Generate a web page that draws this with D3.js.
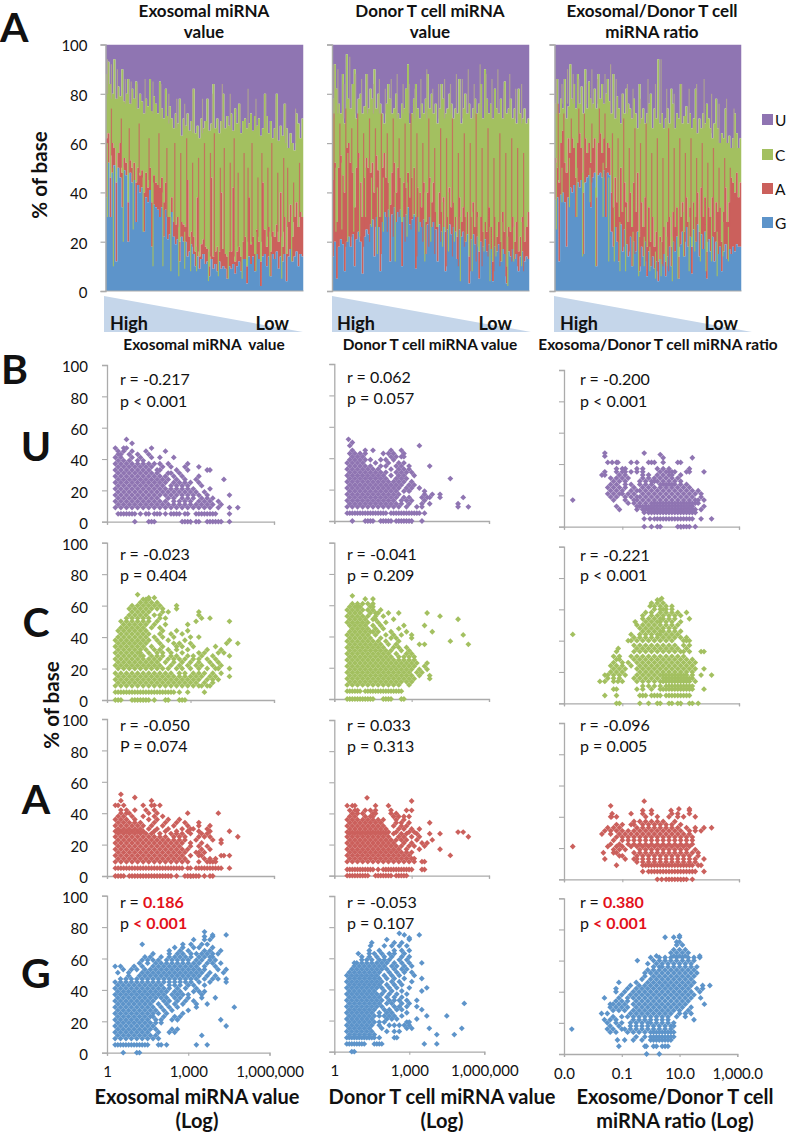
<!DOCTYPE html>
<html><head><meta charset="utf-8">
<script src="https://cdn.jsdelivr.net/npm/d3@7"></script>
<style>
html,body{margin:0;padding:0;background:#fff}
svg{display:block}
text{font-family:Lato,"Open Sans",sans-serif;fill:#111}
</style></head><body><div id="chart"></div>
<script>
// ---------- Panel A: stacked base composition, boundary of each layer (% of base) ----------
const gTopExo=[38,52,30,48,51,12,50,46,34,49,47,20,48,44,45,28,43,40,42,24,38,36,41,18,35,34,33,30,34,22,33,21,23,32,22,19,21,12,22,20,20,14,16,19,15,10,14,9,13,15,11,12,6,13,9,11,8,12,9,10,9,5,10,9,11,7,10,12,8,13,13,3,14,11,14,8,15,13,2,14,15,10,14,6,15,13,16,9,14,12,15,4,14,17,12,14,16,10,15,14];
const aTopExo=[62,64,46,60,58,44,56,60,48,54,52,36,53,50,52,44,50,47,49,40,48,42,50,36,47,44,43,42,46,36,44,30,30,38,28,27,30,20,28,27,26,45,22,24,22,16,38,14,19,21,18,17,10,46,14,16,18,16,40,17,15,14,16,16,42,12,16,18,14,20,22,10,38,19,22,15,25,20,12,44,25,18,26,16,24,22,27,20,40,18,30,15,28,35,22,30,36,26,32,30];
const cTopExo=[88,93,84,80,94,78,83,79,90,77,80,86,76,82,78,85,74,80,77,72,78,75,86,73,79,76,72,85,74,70,82,71,75,70,66,72,68,78,63,70,67,72,65,69,82,64,67,62,70,66,69,78,65,68,84,66,70,64,69,80,66,71,67,72,65,74,68,76,64,69,70,66,68,72,65,71,67,70,63,66,80,71,64,69,62,66,80,61,67,63,76,66,58,64,60,57,72,68,62,70];
const gTopDon=[14,20,5,18,21,19,8,20,22,18,23,10,21,24,20,7,22,25,23,27,29,14,30,26,8,28,32,30,33,12,31,34,28,32,33,10,30,31,34,27,29,31,9,30,28,26,29,15,27,30,26,28,25,12,27,24,26,8,25,27,23,26,24,13,25,22,24,20,23,3,21,23,19,22,5,20,18,21,16,19,17,4,18,16,19,12,17,15,3,16,14,17,13,15,8,14,16,12,14,13];
const aTopDon=[45,52,28,50,55,47,40,58,60,52,48,34,50,56,44,30,46,54,50,48,52,40,55,49,30,50,56,46,44,35,48,52,40,50,46,28,44,42,48,38,46,50,30,42,40,34,44,28,40,46,36,44,32,26,40,32,38,24,30,42,34,36,30,22,38,28,34,30,32,14,30,36,26,32,16,30,24,28,24,34,26,12,30,22,28,20,32,24,10,26,24,30,20,28,16,22,30,20,26,32];
const cTopDon=[78,92,82,76,72,88,68,96,78,74,84,90,70,78,80,72,75,88,74,82,78,90,74,80,76,72,68,76,84,78,72,74,80,72,70,76,74,82,92,68,72,78,84,74,70,76,72,78,88,74,80,72,76,68,74,84,78,72,74,80,76,70,74,72,86,68,74,80,72,76,70,74,78,72,76,84,70,90,78,72,76,70,82,74,72,78,70,85,72,74,78,70,74,68,82,72,70,74,68,70];
const gTopRat=[37,38,12,39,40,36,18,38,42,40,43,30,44,42,45,15,44,46,47,34,46,48,10,47,48,46,49,30,48,47,24,18,26,20,12,27,16,25,19,14,22,10,20,16,24,8,18,14,20,6,16,10,14,9,12,4,13,11,15,6,14,18,10,20,16,22,5,19,24,14,26,18,22,7,25,20,27,14,23,17,24,5,21,16,22,12,20,15,18,8,16,19,13,17,15,18,16,19,18,18];
const aTopRat=[54,50,44,60,65,52,48,62,56,62,58,46,60,64,58,40,62,56,60,52,58,62,38,60,64,56,62,50,60,58,40,34,46,36,30,50,32,44,36,28,40,26,44,32,48,22,36,26,38,18,34,20,30,18,24,12,22,20,26,12,28,30,18,32,26,34,14,30,36,24,38,28,34,18,36,30,40,24,42,30,38,16,34,30,38,24,36,32,34,20,32,42,28,36,46,44,40,48,38,44];
const cTopRat=[76,86,72,78,74,86,70,75,92,78,84,74,88,76,83,72,90,74,85,78,76,82,74,88,78,84,76,80,86,77,72,88,70,79,74,68,80,72,82,76,74,70,78,72,66,84,70,74,68,72,76,80,66,74,70,94,68,72,66,70,74,68,82,76,66,72,70,84,68,71,75,68,72,66,70,82,64,70,66,72,68,76,70,66,62,68,78,66,60,64,62,74,60,63,58,62,72,64,58,62];
// thin single-miRNA streaks seen inside the layers: [position along the ranking (%), low %, high %]
const redExo=[[3,55,74],[8,50,70],[12,48,66],[17,48,68],[22,45,62],[27,40,64],[31,30,58],[35,25,60],[38,22,56],[41,20,62],[44,18,52],[47,16,54],[50,15,60],[53,14,56],[55,14,64],[58,16,50],[60,15,58],[63,15,52],[65,14,62],[67,18,48],[70,18,56],[72,20,50],[74,20,60],[77,22,46],[79,20,56],[82,22,50],[84,22,60],[87,24,48],[90,24,54],[92,26,50],[95,28,44],[98,30,52]];
const greenExo=[[1,30,60],[4,10,50],[9,20,50],[14,25,50],[19,24,46],[24,10,44],[29,10,40],[33,8,30],[37,6,26],[40,9,24],[43,8,22],[46,8,18],[52,4,16],[57,6,18],[62,5,18],[69,5,20],[76,8,24],[83,6,24],[89,5,22],[94,12,30]];
const greyExo=[[1,80,94],[3,78,92],[6,78,90],[10,76,86],[13,76,85],[16,74,84],[20,72,86],[24,72,85],[28,70,84],[32,68,80],[36,66,78],[40,66,76],[44,64,82],[49,64,78],[54,66,80],[59,66,84],[63,66,80],[68,66,76],[72,66,82],[76,66,78],[81,66,80],[86,62,78],[91,60,76],[96,60,74]];
const redDon=[[1,30,72],[4,25,68],[7,18,74],[10,22,66],[13,30,72],[16,18,64],[19,20,70],[22,26,66],[25,15,72],[28,24,64],[31,22,70],[34,30,62],[37,20,68],[40,25,72],[43,14,64],[46,20,60],[49,18,70],[52,15,58],[55,20,66],[58,10,62],[61,14,70],[64,10,56],[67,18,64],[70,8,60],[73,12,72],[76,10,58],[79,14,66],[82,8,54],[85,10,64],[88,6,56],[91,12,62],[94,10,58],[97,8,56]];
const greenDon=[[2,24,50],[5,25,52],[8,20,56],[11,24,48],[14,22,54],[17,30,50],[20,26,46],[23,15,42],[26,24,46],[29,30,52],[32,12,40],[35,30,50],[38,22,44],[41,30,50],[44,24,42],[47,12,40],[50,20,44],[53,26,38],[56,18,36],[59,16,40],[62,20,38],[65,4,30],[68,20,34],[71,8,32],[74,18,30],[77,16,34],[80,4,26],[83,14,30],[86,12,28],[89,2,22],[92,12,26],[96,10,28]];
const greyDon=[[1,70,92],[3,72,90],[6,70,84],[9,74,95],[12,72,88],[15,72,86],[18,72,88],[21,72,84],[24,72,86],[27,72,82],[30,72,86],[33,70,88],[36,72,84],[39,72,84],[42,70,82],[45,72,86],[48,70,90],[51,72,82],[54,70,84],[57,70,86],[60,72,84],[63,72,88],[66,70,86],[69,72,90],[72,70,84],[75,72,92],[78,72,88],[81,70,86],[84,72,90],[87,70,82],[90,72,88],[93,70,82],[96,68,84]];
const redRat=[[2,45,76],[5,40,72],[9,42,70],[13,45,74],[16,44,72],[20,44,68],[24,48,74],[27,46,72],[31,25,64],[34,20,62],[37,18,70],[40,16,58],[43,15,66],[46,10,60],[49,12,68],[52,10,56],[55,8,62],[58,10,54],[61,8,66],[64,16,58],[67,18,62],[70,20,56],[73,22,62],[76,20,54],[79,24,60],[82,20,52],[85,22,58],[88,20,50],[91,24,54],[94,26,50]];
const greenRat=[[1,25,52],[4,36,50],[8,34,54],[12,30,50],[15,14,48],[19,36,50],[22,10,42],[26,30,52],[29,12,46],[32,12,34],[35,8,28],[38,8,34],[42,10,24],[45,6,24],[48,10,22],[51,8,18],[54,5,16],[57,6,20],[60,10,22],[63,4,22],[66,5,22],[69,14,32],[72,8,30],[75,16,36],[78,12,30],[81,8,24],[84,12,30],[87,6,24],[90,14,28],[93,12,26]];
const greyRat=[[1,72,86],[4,76,84],[7,76,90],[10,76,88],[13,76,86],[17,76,84],[20,74,90],[23,76,86],[27,76,88],[30,72,92],[33,70,86],[36,70,80],[39,72,84],[42,70,82],[46,68,78],[50,68,86],[54,70,84],[57,68,94],[60,66,82],[64,66,80],[68,68,84],[72,68,82],[76,64,84],[80,66,86],[84,64,80],[88,60,76],[92,60,78],[96,58,74]];

// ---------- Panel B: scatter rows, each row = [% of base, then log10(x)*10 for the points at that level] ----------
const uExo=[[0,10,15,16,17,27,28,29,30,32,33,36,37,38,39,40,41,44],[5,4,5,6,7,8,9,10,12,14,15,17,18,19,21,23,24,25,26,28,29,32,33,34,35,36,37,38,39,44],[9,3,5,7,9,11,13,15,17,19,21,23,25,27,29,31,33,35,37,40,44,47],[11,4,6,8,10,12,14,16,18,20,22,24,26,28,30,32,34,36,38,41],[13,3,5,7,9,11,13,15,17,19,21,24,26,28,30,33,35,37,40],[15,4,6,8,10,12,14,16,18,22,24,27,29,31,34,36,38],[17,3,5,7,9,11,13,15,17,19,21,23,25,27,29,31,33,36,44],[19,4,6,8,10,12,14,16,18,20,22,24,26,28,30,32,35],[21,3,5,7,9,11,13,15,17,19,21,23,25,27,29,31,37],[23,4,6,8,10,12,14,16,18,20,23,25,27,29,34],[25,3,5,7,9,11,13,15,17,19,21,24,26,28,30,33],[27,4,6,8,10,12,14,16,18,20,22,25,28,32,42],[29,3,5,7,9,11,13,15,17,19,21,24,27,33],[31,4,6,8,10,12,14,16,18,22,23,26],[33,3,5,7,9,11,13,15,18,19,25,29,36,37],[35,4,6,8,10,12,14,16,20,23,28,33],[37,3,5,7,9,11,13,15,17,19,22,29],[39,4,6,8,11,13],[41,3,5,9,12,16,19,24],[43,4,5,8,11,15],[45,4,6,9,14,21],[47,3,6,7,16],[50,9],[52.5,7]];
const cExo=[[0,3,4,5,9,10,11,12,13,14,15,17,21,22,26,27,28],[5,3,4,5,6,7,8,9,10,11,12,13,14,15,16,17,18,19,20,21,22,23,24,26,29,35],[9,3,5,7,9,11,13,15,17,19,21,23,25,27,29,31,33,34,36,37],[11,4,6,8,10,12,14,16,18,20,22,24,26,28,30,32,35,38],[13,3,5,7,9,11,13,15,17,19,21,23,25,27,29,31,33,36,38,40],[15,4,6,8,10,12,14,16,18,20,22,24,26,28,30,32,34,37,39,44],[17,3,5,7,9,11,13,15,17,19,21,23,26,28,31,33,35,38,41],[20,4,6,8,10,12,14,16,18,20,22,25,27,30,33,36,39,40,44],[22,3,5,7,9,11,13,15,17,19,23,26,29,32,34,38,41],[24,4,6,8,10,12,14,16,18,21,24,27,30,33,37,40],[26,3,5,7,9,11,13,15,17,19,22,24,26,28,31,33,36,39],[28,4,6,8,10,12,13,16,18,20,23,25,29,31,34,38,44],[30,3,5,7,9,11,12,15,18,20,23,27,33,35,40,42],[32,4,6,8,10,12,14,17,19,22,25,29,36,41],[34,3,5,7,9,11,13,16,20,25,27,31,39],[36,4,6,8,10,12,14,19,24,26,30,43,47],[38,3,5,7,9,11,13,15,18,22,28,44],[40,4,6,8,10,12,14,17,20,24,30,33],[42,5,7,9,11,13,15,19,23,27],[44,4,6,8,10,12,14,20,25,29],[46,5,7,9,11,13,16,19],[48,6,8,10,12,14,17,21,29],[50,5,7,9,11,13,15,18,32,44],[52,7,9,11,13,15,19,21,34,37],[54,8,10,12,14,17,19,33],[56,9,11,13,15,20,22,33],[58,8,10,12,14,16,18,20,25],[60,9,11,13,15,17,19,25],[62,12,14,16,18],[64,13,14,15],[65,15,17],[67,11]];
const aExo=[[0,3,4,5,6,8,9,10,11,12,13,14,15,16,17,18,19,20,21,22,23,25,28,29,30,31,32,33,35,37,38],[5,3,4,5,6,7,8,9,10,11,12,13,14,15,16,17,18,19,20,21,22,23,24,25,26,27,29,30,32,33,34,35,36,37,38,39,40,41,44],[9,3,5,7,9,11,13,15,17,19,21,23,25,27,29,33,36,37,38,39],[11,4,6,8,10,12,14,16,18,20,22,24,26,28,35,37,39],[13,3,5,7,9,11,13,15,17,19,21,23,25,27,30,33,34,41,42,44],[15,4,6,8,10,12,14,16,18,20,22,24,26,28,32,33,35],[17,3,5,7,9,11,13,15,17,19,21,23,25,27,29,34,37],[19,4,6,8,10,12,14,16,18,20,22,24,26,30,33,36],[21,3,5,7,9,11,13,15,17,19,21,23,25,27,30,34,41],[23,4,6,8,10,12,14,16,18,20,22,24,26,28,32,38,41],[25,3,5,7,9,11,13,15,17,19,21,24,26,28,33,35,37,47],[27,4,6,8,10,12,14,16,19,23,25,27,30,34,36],[28.5,3,5,7,9,11,13,17,21,25,29,33,37,44],[30,4,6,8,10,12,15,18,22,27,30,31,36],[32,3,5,7,9,11,13,16,20,24,29,33,37],[34,4,6,8,10,12,17,21,25,28,33],[36,3,5,7,10,15,18,22,26],[38,4,6,9,13,17,20],[40,5,7,8,15,18,29,40],[42,5,7,10,14,17],[45,3,4,6,13,16,17,19],[48,5,16],[50,10],[52,5]];
const gExo=[[0,6,11,12],[5,3,4,5,6,7,8,9,10,11,12,13,14,15,19,20,22,33,37],[9,3,5,7,9,11,13,15,17,19],[11,4,6,8,10,12,14,16,18,35],[13,3,5,7,9,11,13,15,19,23,25],[15,4,6,8,10,12,14,16,18,24,26],[17,3,5,7,9,11,13,15,17,44],[19,4,6,8,10,12,14,16,18,20],[21,3,5,7,9,11,13,15,18,20,24,26,42],[23,4,6,8,10,12,14,16,17,21,25,27],[25,3,5,7,9,11,13,15,17,19,22,28],[27,4,6,8,10,12,14,16,18,21,24,30],[29,3,5,7,9,11,13,15,17,20,23,26,47,33],[31,4,6,8,10,12,14,16,19,22,25,28,33,37],[33,3,5,7,9,11,13,15,17,21,23,26,29,32],[35,4,6,8,10,12,14,16,18,20,22,25,27,30,35,40],[37,3,5,7,9,11,13,15,17,19,21,24,26,28,30,35],[39,4,6,8,10,12,14,16,18,20,22,25,27,32,34,36],[41,3,5,7,9,11,13,15,17,19,21,23,26,29,33],[43,4,6,8,10,12,14,16,18,20,23,25,27,30,32,36],[45,3,5,7,9,11,13,15,17,19,21,23,25,27,29,31,34,38,44],[47,5,7,9,11,13,15,17,19,21,23,25,27,29,31,33,36,39,41,44],[49,8,12,14,16,18,20,22,24,26,28,30,32,34,37,40],[51,4,8,13,15,17,19,21,23,25,27,29,31,33,35,38,43],[53,6,9,11,14,16,18,20,22,24,26,28,30,32,34,36,41,44],[55,3,5,10,13,17,19,21,23,25,27,29,31,33,36,40],[57,12,15,18,20,22,24,26,28,30,32,34,37,39,42],[59,13,15,17,19,22,24,26,28,30,33,35,38,40],[61,14,16,20,23,25,27,29,31,34,36,38,39],[63,17,23,26,28,31,33,35,37,39,41],[65,23,27,30,36,38,42],[67,25,28,32,34,39],[69,13,28,31,35,37],[72,32,36,38],[74,39,36],[75,39,44],[77,36]];
const uDon=[[0,7,12,13,14,15,18,19,20,21,22,24,25,26,27,28,29,30,34],[5,5,6,7,8,9,10,11,12,13,14,15,16,17,18,19,20,22,23,24,25,26,27,28,29,30,31,32,33,35],[9,5,7,9,11,13,15,17,19,21,23,25,28,32,34,48,52],[11,6,8,10,12,14,16,18,20,22,24,26,29,34,37,48],[13,5,7,9,11,13,15,17,19,21,23,26,28,30,35],[15,6,8,10,12,14,16,18,20,22,24,27,29,34,36,37,41,50],[17,5,7,9,11,13,15,17,19,21,23,25,35,38,41],[19,6,8,10,12,14,16,18,20,22,24,27,29,35],[21,5,7,9,11,13,15,17,19,21,23,25,28,30,33],[23,6,8,10,12,14,16,18,20,22,24,26,29,31],[25,5,7,9,11,13,15,17,19,21,23,25,27,30],[27,6,8,10,12,14,16,18,20,24,26,28,45],[29,5,7,9,11,13,15,17,19,22,25,27,31],[31,6,8,10,12,14,16,18,20,24,26,28,30],[33,5,7,9,11,13,15,17,22,25,27,29],[35,6,8,10,12,14,18,20,24,26,29,37],[37,5,7,9,11,16,21,25,27],[39,6,8,10,12,14,18,20,23],[41,7,9,11,22,24,26,27],[43,6,8,10,12,19,21,23,27],[45,7,12,15,22,26],[48,6,33],[50,7],[52,5.5]];
const cDon=[[0,5,6,7,8,9,10,11,12,13,14,15,19,20,21,22,26,27],[5,5,6,7,8,9,10,12,13,14,15,16,17,18,19,20,21,22,23,24,25,26],[9,5,7,9,11,13,15,17,19,21,23,25,29],[11,6,8,10,12,14,16,18,20,22,24,26,28,30],[13,5,7,9,11,13,15,17,19,21,23,25,27,29,31,37],[15,6,8,10,12,14,16,18,20,22,24,26,28,30,33,37],[17,5,7,9,11,13,15,17,19,21,23,25,27,29,32,34],[19,6,8,10,12,14,16,18,20,22,24,26,28,30,33,36],[21,5,7,9,11,13,15,17,19,21,23,25,27,29,31,35],[23,6,8,10,12,14,16,18,20,22,24,26,28,30,32,36],[25,5,7,9,11,13,15,17,19,21,23,25,27,29,31],[27,6,8,10,12,14,16,18,20,22,25,27,29,31],[29,5,7,9,11,13,15,17,19,21,24,28,30],[31,6,8,10,12,14,16,18,20,22,26,29],[33,5,7,9,11,13,15,17,19,23,25,28],[35,6,8,10,12,14,16,18,21,24,33,35,52],[37,5,7,9,11,13,15,17,20,25,45],[39,6,8,10,12,14,18,22,24,30],[41,5,7,9,11,13,16,20,23,26,30,50],[43,6,8,10,12,14,15,17,22,28,38],[45,7,9,11,13,16,19,25],[47,6,8,10,12,15,18,27,35],[49,5,7,9,11,13,17,20],[51,6,8,10,12,15,16,23,48],[53,5,7,9,11,13,16,19,41],[55,6,8,10,14,16,17,21,25,36],[57,5,7,9,11,13,15,18],[59,6,8,9,10,14,15],[61,7,9,11,13,15],[64,12,15],[66,7]];
const aDon=[[0,5,6,7,8,9,10,11,12,13,16,17,18,19,20,21,22,24,25,26,27,28],[4,5,6,7,8,9,10,11,12,13,14,15,17,19,20,21,22,23,24,25,26,27,28,29,30,34,35],[9,5,7,9,11,13,15,17,19,21,23,25,27,29,31,34,35],[11,6,8,10,12,14,16,18,20,22,24,26,28,30,31],[13,5,7,9,11,13,15,17,19,21,23,25,27,29,45],[15,6,8,10,12,14,16,18,20,22,24,26,28,30],[17,5,7,9,11,13,15,17,19,21,23,25,28,33,41],[19,6,8,10,12,14,16,18,20,22,24,26,29,31,35],[21,5,7,9,11,13,15,17,19,21,23,27,30,34,36],[23,6,8,10,12,14,16,18,20,22,24,26,28,32,38],[25,5,7,9,11,13,15,17,19,21,25,27,30,33,52],[27,6,8,10,12,14,16,18,20,23,26,28,32,37,41],[28,5,7,9,11,13,15,17,19,21,24,29,31,48,50],[30,6,8,10,12,14,16,18,20,25,27,30,33],[32,5,7,9,11,13,15,17,19,23,26,28],[34,6,8,10,12,14,16,18,24,26,29,37],[36,5,7,9,11,13,15,17,19,24,27],[38,6,8,12,14,15,23,25,27,29],[40,7,9,11,15,16,22,24],[42,6,8,9,12,14,16,22,28,30],[45,5,7,8,16,21],[48,30],[50,12.7]];
const gDon=[[0,7,8],[5,5,6,7,8,9,10,11,12,16,17,18,19,36,41],[9,5,6,7,8,9,10,11,12,13,14,15,16,18,24,25],[11,6,8,10,12,14,16,41,48],[13,5,7,9,11,13,15,21,24,26],[15,6,8,10,12,14,19,29,31,38,51],[17,5,7,9,11,13,15,18,22,24,26,28,30],[19,6,8,10,12,14,16,18,20,29,30],[21,5,7,9,11,13,15,21,23,25,33],[23,6,8,10,12,14,16,18,20,22,24,27,37,45],[25,5,7,9,11,13,15,18,21,23,29],[27,6,8,10,12,14,16,20,22,25,27,35],[29,5,7,9,11,13,15,17,19,24,26,29,33],[31,6,8,10,12,14,16,18,21,23,27,30,52],[33,5,7,9,11,13,15,17,19,22,24,26,29,33],[35,6,8,10,12,14,16,18,21,24,27],[37,5,7,9,11,13,15,17,19,22,25,29],[39,6,8,10,12,14,16,20,23,27,35],[41,5,7,9,11,13,15,17,19,22,25,30,37],[43,6,8,10,12,14,16,18,21,24,27],[45,5,7,9,11,13,15,17,19,23,26,31],[47,6,8,10,12,14,16,18,21,24,28,35],[49,5,7,9,11,13,15,17,20,23,26,32],[51,6,8,10,12,14,16,18,22,25,28,31],[53,7,9,11,13,15,17,19,21,24,27,29],[55,8,10,12,14,16,18,20,23,25,28,31],[57,8,9,11,13,15,17,19,21,24,27,30,35],[59,11,13,15,18,20,22,26,29],[61,11,14,17,20,23,27,30],[63,9.6,14,16,19,22,24,28],[65,14,18,24,27,30],[68,14.5,20,23,26,29],[70,15,24,27],[72,21,30],[73,30],[75,34,28],[76,26]];
const uRat=[[0,-2.5,0,2,3,9,10,11,12,13,15],[5,-2.5,-.5,1,2,3,4,5,6,7,8,9,10,11,12,13,14,17,20.6],[9,-2.5,-1,0,1,2,3,4,5,6,7,8,9,10,11,12,13,14,15],[11,-11,-5,-3,-2,-1,0,1,2,3,4,5,6,7,8,9,10,11,12,13,14,15,17],[13,-12,-5,-4,-3,-2,-1,0,1,2,3,4,5,6,7,8,9,10,11,12,13,14,18],[15,-8,-6,-4,-2,0,1,2,3,4,5,6,7,8,9,10,11,12,13,14,15,16],[17,-27,-13,-9,-6,-5,-3,-1,1,3,5,7,9,11,13,15,16,18],[19,-14,-12,-9,-7,-5,-4,-2,0,2,4,6,8,10,12,14,17],[21,-15,-13,-11,-10,-8,-6,-3,-1,1,3,5,7,9,11,13,15,17],[23,-14,-12,-10,-7,-5,-4,-2,0,2,4,6,8,10,12,14,16],[25,-15,-13,-11,-9,-6,-3,-1,1,3,5,7,9,11,13],[27,-14,-12,-9,-7,-4,-2,0,3,4,5,6,7,8,10,12],[29,-13,-11,-9,-4,-2,0,1,2,4,6,8,10],[31,-14,-12,-10,-8,-3,-1,1,3,5,7,9],[33,-17,-16,-11,-9,-3,-1,2,4,6,7,10],[35,-16,-12,-10,-9,-7,-5,-3,3,5,6,7,8,12,13,18],[37,-12,-10,-9,-5,-3,2,4,6,13],[41,-15,-13.5,-12,-11.5,-7,-5,-1,0,1,4,10,9],[44,14,4],[45,-16],[46,3],[47,-16,-2.5]];
const cRat=[[0,-12,-11,-4,-1,2,3,6,7,9,10,13,14,16],[5,-16,-12,-4,-3,-2,0,1,2,3,5,6,7,8,9,10,11,12,13],[9,-13,-12,-5,-3,0,3,4,5,6,7,8,9,10,11,12,13,14,18],[11,-3,-1,1,3,5,6,7,8,9,10,11,12,13,14],[14,-17.7,-16,-13,-11.5,-10,-5,-3,-1,1,3,4,5,6,7,8,9,10,11,12,13,15],[16,-15,-13,-11,-6,-4,-2,0,2,4,5,6,7,8,9,10,11,12,13,14],[18,-16,-15,-13,-11,-9,-5,-3,-1,1,3,4,5,6,7,8,9,10,11,12,14,17,20.6],[20,-14,-12,-10,-4,-2,0,2,4,6,8,10,12,14],[22,-13,-11,-9,-5,-3,-1,1,3,5,7,9,11,13,15,18],[24,-14,-12,-10,-7,-4,-2,0,2,4,6,8,10,12,14],[26,-13,-10,-8,-5,-3,-1,1,3,5,7,9,11,13,15],[28,-12,-11,-6,-4,-2,0,2,4,6,8,10,12,14],[30,-13,-11,-7,-5,-3,-1,1,3,5,7,9,11],[33,-12,-6,-4,-2,0,2,4,6,8,10,11,13,17,18],[35,-11.4,-5,-3,-1,1,3,5,7,9,12],[37,-6,-4,-2,0,2,4,6,8,11,13],[40,-8,-7,-5,-3,-1,1,3,5,7,11,12,13],[42,-6,-4,-2,0,2,4,6,8,10,12],[44,-27,-7,-4,-2,0,2,3,5,7,9],[46,-3,-1,1,3,4,6,8,10],[48,-4,-2,0,2,4,6,8],[50,-5,-3,-1,1,3,5,7,9],[52,-5.6,-2,0,2,3,5,7,10],[54,-3,-1,1,3,4,6,8,13],[56,-3,0,2,4,6,8,10],[58,-2,0,3,5,7,12,9],[60,1,3,4,5,7],[62,-.5,1,3,5,7],[64,0,2,4],[66,2,3],[67,3.5]];
const aRat=[[0,2,3.5,5,6,7,8,9,10,11,12,14],[5,-3,-1,0,1,2,3,4,5,6,7,8,9,10,11,12,13,14,15,18],[9,-12,-3,-2,-1,0,1,2,3,4,5,6,7,8,9,10,11,12,13,14,16,17],[11,-5,-3,-1,1,3,5,7,9,11,13,15],[13,-16,-9,-6,-5,-3,-1,1,3,5,7,9,11,13,15,18],[15,-11,-10,-5,-3,-1,1,3,5,7,9,11,13,16],[17,-16.5,-13,-12,-6,-4,-2,0,2,4,6,8,10,12,14,16],[19,-13,-11,-9,-4,-2,0,2,4,6,8,10,12,15],[21,-27,-15,-12,-10,-7,-5,-3,-1,1,3,5,7,9,11,13],[22.5,-14,-11,-8,-6,-4,-2,0,2,4,6,8,10,12,14],[25,-13,-10,-8,-6,-4,-2,0,2,4,6,8,10,12,14],[27,-12,-10,-8,-6,-4,-2,0,2,4,6,8,10,12,14],[29,-17,-14,-11,-9,-7,-5,-3,-1,1,3,5,7,9,11,13],[31,-16,-14,-12,-10,-8,-6,-4,-2,0,2,4,6,8,10,13,15,17],[33,-15,-13,-11,-5,-3,-1,1,3,5,7,9,12,15,18,20.6],[35,-12,-10,-7,-6,-3,-1,1,3,5,7,10],[37,-6,-4,-2,0,2,4,8],[40,-13.7,-14,-12,-2,2,6,9,11,15],[42,-13.5,-7,-3,0,7,9,13],[44,-3,0,6.7,13],[45,9.4,13],[47,-14],[50,-2.5]];
const gRat=[[0,-1.4,3],[5,-11,-2,-1.5,1,2,4,5,6],[9,-11.5,-9,-6,-3,0,1,2,3,4,5,6,7],[11,-5,-2,0,1,2,3,4,5,6,7,8],[14,-14,-12,-8,-6,-4,-2,0,1,2,3,4,5,6,7,8],[16,-27.3,-15,-13,-10,-9,-7,-5,-3,-1,1,3,5,7],[18,-14,-11,-7,-5,-3,-1,1,3,5,7,8],[20,-15,-12,-10,-7,-5,-3,-1,0,2,4,6,8],[22,-16,-14,-12,-6,-4,-2,0,2,4,6,15],[24,-13,-10,-8,-6,-4,-2,0,2,4,6,9,12],[26,-15,-17,-7,-5,-3,-1,1,3,5,7,10,12,14],[28,-13,-11,-9,-6,-4,-2,0,2,4,6,8,10,13],[30,-14,-12,-10,-8,-5,-3,-1,1,3,5,7,9,11,14],[32,-14,-13,-11,-9,-6,-4,-2,0,2,4,6,8,10,12,18.6],[34,-12,-10,-8,-5,-3,-1,1,3,5,7,9,11,13],[36,-16,-11,-8,-6,-4,-2,0,2,4,6,8,10,12,14,17.3],[38,-10,-7,-5,-3,-1,1,3,5,7,9,11,13,15],[40,-12,-9,-6,-4,-2,0,2,4,6,8,10,12,14,17],[42,-12,-8,-5,-3,-1,1,3,5,7,9,11,13,16,18],[44,-7,-4,-2,0,2,4,6,8,10,12,14,18,20.5],[46,-11,-5,-1,1,3,5,7,9,11,13,15],[48,-3,0,2,4,6,8,10,12,14],[50,-2,1,3,5,7,9,11,13,15],[52,-2,0,2,4,6,8,10,12,14,16],[54,-1,1,3,5,7,9,11,13,15],[56,1,3,4,6,8,10,12,14,16],[58,-1,2,4,6,8,10,12,14],[60,-4.6,1,3,5,7,9,11,13,15],[62,0,3,5,7,9,11,13,15,17],[63,2,8,10,12,17],[65,7,9,11,13],[67,8,10,12],[70,9,11],[72,9,10],[75,5,8,10],[76,10]];

// ---------- labels ----------
const baseNames=["U","C","A","G"];
const baseColors=["#8F74B2","#A3C060","#CB605C","#5D94CA"];
const streakGrey="#AFA68E";
const yTicks=[0,20,40,60,80,100];
const rLabels=[["-0.217","-0.023","-0.050","0.186"],["0.062","-0.041","0.033","-0.053"],["-0.200","-0.221","-0.096","0.380"]];
const pLabels=[["p < 0.001","p = 0.404","P = 0.074","p < 0.001"],["p = 0.057","p = 0.209","p = 0.313","p = 0.107"],["p < 0.001","p < 0.001","p = 0.005","p < 0.001"]];
const columnTitles=[["Exosomal miRNA","value"],["Donor T cell miRNA","value"],["Exosomal/Donor T cell","miRNA ratio"]];
const wedgeLabels=["Exosomal miRNA  value","Donor T cell miRNA value","Exosoma/Donor T cell miRNA ratio"];
const xTickLabels=[["1","1,000","1,000,000"],["1","1,000","1,000,000"],["0.0","0.1","10.0","1,000.0"]];
const xTitles=[["Exosomal miRNA value","(Log)"],["Donor T cell miRNA value","(Log)"],["Exosome/Donor T cell","miRNA ratio (Log)"]];

// ---------- layout ----------
const W=788,H=1133,AXIS="#ABABAB";
const svg=d3.select("#chart").append("svg").attr("width",W).attr("height",H);
const defs=svg.append("defs");
defs.append("filter").attr("id","soft").attr("x","-2%").attr("width","104%")
  .append("feGaussianBlur").attr("stdDeviation","0.45 0.2");
defs.append("filter").attr("id","dots").append("feGaussianBlur").attr("stdDeviation","0.3");
const txt=(x,y,s,size,o={})=>svg.append("text").attr("x",x).attr("y",y).attr("font-size",size)
  .attr("font-weight",o.w||400).attr("text-anchor",o.a||"start").attr("transform",o.t||null).text(s);

// Panel A
const aPanels=[
 {x0:105.5,x1:303.5,g:gTopExo,a:aTopExo,c:cTopExo,red:redExo,green:greenExo,grey:greyExo,hx:110,lx:289,wx0:104,wx1:303,tc:204,sc:204,ty:[17,38]},
 {x0:332,x1:529.5,g:gTopDon,a:aTopDon,c:cTopDon,red:redDon,green:greenDon,grey:greyDon,hx:337,lx:512,wx0:332,wx1:531,tc:430,sc:430,ty:[17,38]},
 {x0:554.5,x1:741.5,g:gTopRat,a:aTopRat,c:cTopRat,red:redRat,green:greenRat,grey:greyRat,hx:560,lx:738,wx0:554,wx1:752,tc:652,sc:658,ty:[17,38]}];
const aY=d3.scaleLinear().domain([0,100]).range([291,44.5]);
aPanels.forEach((p,pi)=>{
  const n=p.g.length, x=d3.scaleLinear().domain([0,n]).range([p.x0,p.x1]);
  const idx=d3.range(n+1), at=(arr,i)=>arr[Math.min(i,n-1)];
  const clip="clipA"+pi;
  defs.append("clipPath").attr("id",clip).append("rect").attr("x",p.x0).attr("y",44.5).attr("width",p.x1-p.x0).attr("height",246.5);
  const g=svg.append("g").attr("clip-path",`url(#${clip})`).append("g").attr("filter","url(#soft)");
  const layers=[[()=>100,p.c],[p.c,p.a],[p.a,p.g],[p.g,()=>0]];
  layers.forEach((l,k)=>{
    const top=typeof l[0]==="function"?()=>100:i=>at(l[0],i);
    const bot=typeof l[1]==="function"?()=>0:i=>at(l[1],i);
    g.append("path").attr("fill",baseColors[k])
      .attr("d",d3.area().curve(d3.curveStepAfter).x(i=>x(i)).y0(i=>aY(bot(i))).y1(i=>aY(top(i)))(idx));
  });
  [[p.grey,streakGrey,.9],[p.green,baseColors[1],.95],[p.red,baseColors[2],.8]].forEach(([list,col,op])=>{
    g.append("g").selectAll("line").data(list).join("line")
      .attr("x1",d=>x(d[0])).attr("x2",d=>x(d[0])).attr("y1",d=>aY(d[1])).attr("y2",d=>aY(d[2]))
      .attr("stroke",col).attr("stroke-width",1.2).attr("stroke-opacity",op);
  });
  const ax=svg.append("g").attr("transform",`translate(${p.x0},0)`)
    .call(d3.axisLeft(aY).tickValues(yTicks).tickSize(5).tickPadding(13).tickFormat(pi===0?d3.format("d"):""));
  ax.select(".domain").attr("stroke",AXIS).attr("stroke-width",1.4);
  ax.selectAll("line").attr("stroke",AXIS).attr("stroke-width",1.2);
  ax.selectAll("text").attr("font-size",15).attr("dy","0.42em").attr("fill","#111").attr("font-family","Lato");
  svg.append("path").attr("stroke",AXIS).attr("stroke-width",1.2).attr("d",`M${p.x0},291H${p.x1}`);
  svg.append("path").attr("fill","#C5D6EA").attr("d",`M${p.wx0},296L${p.wx1},332H${p.wx0}Z`);
  txt(p.hx,330,"High",18,{w:700});
  txt(p.lx,330,"Low",18,{w:700,a:"end"});
  txt(p.sc,350,wedgeLabels[pi],15.4,{w:700,a:"middle"}).attr("xml:space","preserve");
  columnTitles[pi].forEach((s,i)=>txt(p.tc,p.ty[i],s,17,{w:700,a:"middle"}));
});
// legend
const legendY=[114,149,183,217];
baseNames.forEach((b,i)=>{
  svg.append("rect").attr("x",762).attr("y",legendY[i]).attr("width",11).attr("height",11).attr("fill",baseColors[i]);
  txt(775,legendY[i]+11.5,b,15.5);
});
txt(0,42,"A",41,{w:700});
txt(1,384,"B",41,{w:700});
txt(47,175,"% of base",20.5,{w:700,a:"middle",t:"rotate(-90 47 175)"});
txt(59,705,"% of base",20.5,{w:700,a:"middle",t:"rotate(-90 59 705)"});
[["U",461],["C",637],["A",814],["G",988]].forEach(d=>txt(36,d[1],d[0],41,{w:700,a:"middle"}));

// Panel B
const colData=[[uExo,cExo,aExo,gExo],[uDon,cDon,aDon,gDon],[uRat,cRat,aRat,gRat]];
const xDomains=[[0,60],[0,60],[-30,30]];
const tickStops=[[0,30,60],[0,30,60],[-30,-10,10,30]];
const geom=[
 {x0:107,x1:[274,274,274,269.5],top:[365,542.7,719,895.7],bot:[521.7,700,876,1052.7],tx:120,ry:[385,560,731,908],py:[407,581,752,929]},
 {x0:334.3,x1:[489,489,489,484.3],top:[364,542.7,720,896],bot:[521,699,875.7,1051.7],tx:347,ry:[383,560,731,908],py:[404,581,752,929]},
 {x0:564,x1:[739,739,739,737.3],top:[370,546.7,723,898.3],bot:[526.7,703.3,879.3,1054],tx:580,ry:[385,561,731,908],py:[407,581,752,929]}];
const marker=d3.symbol(d3.symbolSquare,17)();
colData.forEach((rows,c)=>{
  const G=geom[c];
  rows.forEach((data,r)=>{
    const x=d3.scaleLinear().domain(xDomains[c]).range([G.x0,G.x1[r]]);
    const y=d3.scaleLinear().domain([0,100]).range([G.bot[r],G.top[r]]);
    const pts=data.flatMap(row=>row.slice(1).map(v=>({lx:v,pct:row[0]})));
    const ay=svg.append("g").attr("transform",`translate(${G.x0},0)`)
      .call(d3.axisLeft(y).tickValues(yTicks).tickSize(5).tickPadding(14).tickFormat(c===0?d3.format("d"):""));
    const ax=svg.append("g").attr("transform",`translate(0,${G.bot[r]})`)
      .call(d3.axisBottom(x).tickValues(tickStops[c]).tickSize(3).tickPadding(11)
        .tickFormat(r===3?(d,i)=>xTickLabels[c][i]:""));
    [ay,ax].forEach(a=>{
      a.select(".domain").attr("stroke",AXIS).attr("stroke-width",1.3);
      a.selectAll("line").attr("stroke",AXIS).attr("stroke-width",1.1);
      a.selectAll("text").attr("font-size",15).attr("fill","#111").attr("font-family","Lato");
    });
    ay.selectAll("text").attr("dy","0.45em");
    svg.append("g").attr("filter","url(#dots)").selectAll("path").data(pts).join("path").attr("d",marker)
      .attr("fill",baseColors[r]).attr("transform",d=>`translate(${x(d.lx)},${y(d.pct)}) rotate(45)`);
    const bold=r===3&&c!==1;
    const rt=txt(G.tx,G.ry[r],"r = ",16);
    rt.append("tspan").text(rLabels[c][r]).attr("font-weight",bold?700:400).style("fill",bold?"#E3111B":"#111");
    const pl=pLabels[c][r];
    const pt=txt(G.tx,G.py[r],bold?"p ":pl,16);
    if(bold) pt.append("tspan").text(pl.slice(2)).attr("font-weight",700).style("fill","#E3111B");
  });
  const cx=[197,442,675][c];
  xTitles[c].forEach((s,i)=>txt(cx,[1104,1128][i],s,20,{w:700,a:"middle"}));
});
</script></body></html>
